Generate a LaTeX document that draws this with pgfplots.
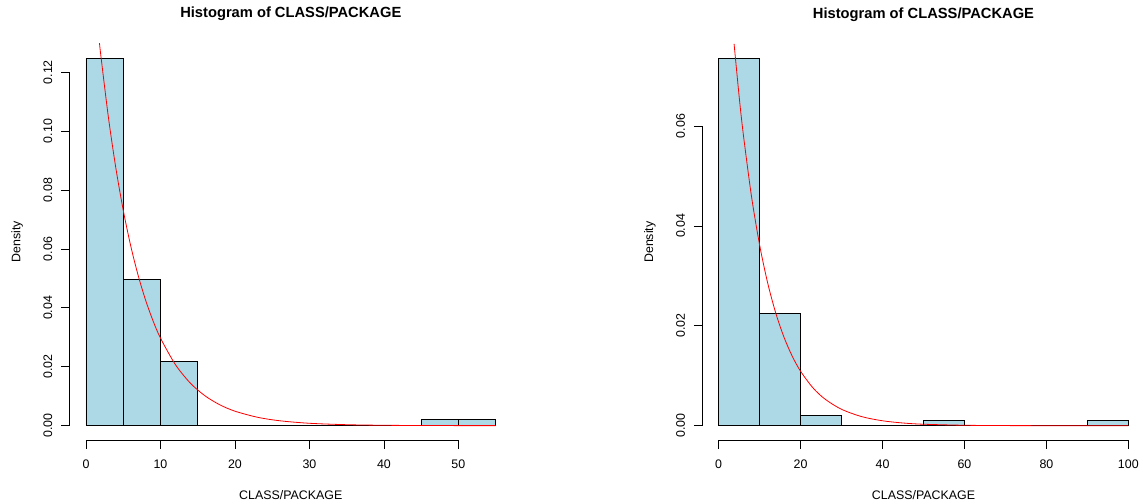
\documentclass[border=0pt]{standalone}
\usepackage{fontspec}
\setmainfont{Liberation Sans}
\usepackage{pgfplots}
\pgfplotsset{compat=1.18}
\definecolor{lb}{RGB}{173,216,230}
\pgfplotsset{rhist/.style={
  scale only axis, anchor=south west, width=442.4bp,
  axis line style={draw=none},
  xtick pos=bottom, ytick pos=left,
  tick align=outside, major tick length=8.5bp, tick style={black, line width=0.8bp},
  minor tick num=0,
  clip mode=individual,
  scaled y ticks=false,
  /pgf/number format/assume math mode=true,
  tick label style={font=\fontsize{12.4bp}{14bp}\selectfont},
  label style={font=\fontsize{12.4bp}{14bp}\selectfont},
  xticklabel style={anchor=base, yshift=-19.4bp},
  yticklabel style={rotate=90, anchor=base, yshift=9bp, /pgf/number format/fixed, /pgf/number format/fixed zerofill, /pgf/number format/precision=2},
  xlabel style={at={(axis description cs:0.5,0)}, anchor=base, yshift=-58.6bp},
  ylabel style={at={(axis description cs:0,0.5)}, anchor=base, yshift=49.1bp},
  title style={at={(axis description cs:0.5,1)}, anchor=base, yshift=19.7bp, font=\bfseries\fontsize{14.7bp}{16bp}\selectfont},
  title={Histogram of CLASS/PACKAGE}, xlabel={CLASS/PACKAGE}, ylabel={Density},
}}
\begin{document}
\begin{tikzpicture}
\path[use as bounding box] (0,0) rectangle (1143bp,504bp);
\begin{axis}[rhist, at={(69.6bp,63.6bp)}, height=397bp,
  xmin=-2.2, xmax=57.2, ymin=-0.005, ymax=0.1298,
  xtick={0,10,20,30,40,50}, ytick={0,0.02,0.04,0.06,0.08,0.1,0.12}]
\addplot[ybar interval, fill=lb, draw=black, line width=0.8bp] coordinates {
(0,0.1248)(5,0.0495)(10,0.0219)(15,0)(20,0)(25,0)(30,0)(35,0)(40,0)(45,0.002)(50,0.002)(55,0.002)};
\addplot[red, line width=0.8bp, smooth] coordinates {
(1.8,0.1302)(2,0.12558)(3,0.10489)(4,0.08762)(5,0.07319)(6,0.06113)(7,0.05106)(8,0.04265)(9,0.03562)(10,0.02975)(12,0.02076)(14,0.01448)(16,0.01010)(18,0.00705)(20,0.00492)(23,0.00287)(26,0.00167)(30,0.000813)(35,0.000331)(40,0.000134)(45,0.0000547)(50,0.0000222)(55,0.000009)};
\draw[line width=0.8bp] (axis cs:0,-0.005) -- (axis cs:50,-0.005);
\draw[line width=0.8bp] (axis cs:-2.2,0) -- (axis cs:-2.2,0.12);
\end{axis}
\begin{axis}[rhist, at={(702.3bp,63.6bp)}, height=396.5bp,
  xmin=-4, xmax=104, ymin=-0.00294, ymax=0.07644,
  xtick={0,20,40,60,80,100}, ytick={0,0.02,0.04,0.06}]
\addplot[ybar interval, fill=lb, draw=black, line width=0.8bp] coordinates {
(0,0.07355)(10,0.0225)(20,0.00208)(30,0)(40,0)(50,0.001)(60,0)(70,0)(80,0)(90,0.001)(100,0.001)};
\addplot[red, line width=0.8bp, smooth] coordinates {
(3.76,0.07643)(5,0.06586)(6,0.05841)(8,0.04595)(10,0.03614)(12,0.02843)(14,0.02237)(16,0.01759)(18,0.01384)(20,0.01089)(23,0.00759)(26,0.00530)(30,0.00328)(35,0.00180)(40,0.000988)(45,0.000542)(50,0.000297)(60,0.0000896)(70,0.000027)(80,0.0000081)(90,0.0000024)(100,0.0000007)};
\draw[line width=0.8bp] (axis cs:0,-0.00294) -- (axis cs:100,-0.00294);
\draw[line width=0.8bp] (axis cs:-4,0) -- (axis cs:-4,0.06);
\end{axis}
\end{tikzpicture}
\end{document}
